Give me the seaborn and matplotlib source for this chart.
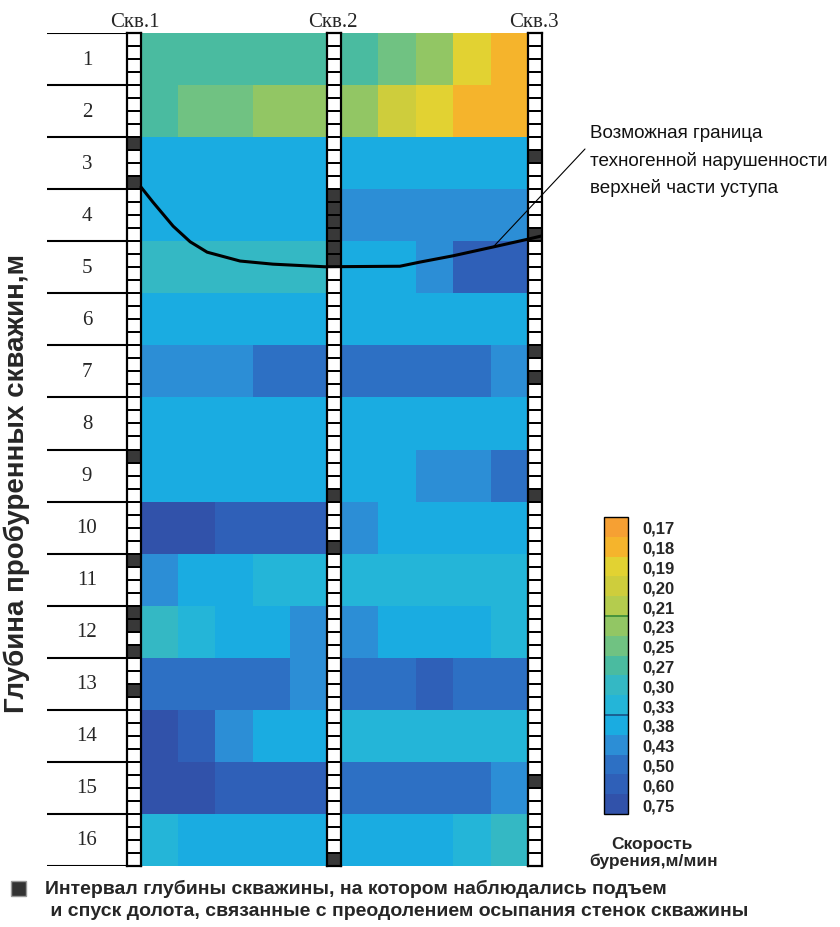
import numpy as np
import pandas as pd
import matplotlib
matplotlib.use('Agg')
import matplotlib.pyplot as plt
import seaborn as sns
from matplotlib.colors import ListedColormap
from matplotlib.patches import Rectangle

# colour scale: drilling speed levels, m/min (top to bottom of the bar)
levels = [0.17, 0.18, 0.19, 0.20, 0.21, 0.23, 0.25, 0.27, 0.30, 0.33, 0.38, 0.43, 0.50, 0.60, 0.75]
level_colors = ['#F6A033', '#F5B42C', '#E2D232', '#CECD3C', '#B4CC4E', '#92C664', '#70C282',
                '#4ABBA0', '#34B8C4', '#24B5D8', '#1AACE1', '#2C8ED6', '#2D70C4', '#2F60B8', '#3152AA']

depths = list(range(1, 17))

# drilling speed between wells 1 and 2, five columns per metre of depth
speed_12 = [
    [0.27, 0.27, 0.27, 0.27, 0.27],
    [0.27, 0.25, 0.25, 0.23, 0.23],
    [0.38, 0.38, 0.38, 0.38, 0.38],
    [0.38, 0.38, 0.38, 0.38, 0.38],
    [0.30, 0.30, 0.30, 0.30, 0.30],
    [0.38, 0.38, 0.38, 0.38, 0.38],
    [0.43, 0.43, 0.43, 0.50, 0.50],
    [0.38, 0.38, 0.38, 0.38, 0.38],
    [0.38, 0.38, 0.38, 0.38, 0.38],
    [0.75, 0.75, 0.60, 0.60, 0.60],
    [0.43, 0.38, 0.38, 0.33, 0.33],
    [0.30, 0.33, 0.38, 0.38, 0.43],
    [0.50, 0.50, 0.50, 0.50, 0.43],
    [0.75, 0.60, 0.43, 0.38, 0.38],
    [0.75, 0.75, 0.60, 0.60, 0.60],
    [0.33, 0.38, 0.38, 0.38, 0.38],
]

# drilling speed between wells 2 and 3
speed_23 = [
    [0.27, 0.25, 0.23, 0.19, 0.18],
    [0.23, 0.20, 0.19, 0.18, 0.18],
    [0.38, 0.38, 0.38, 0.38, 0.38],
    [0.43, 0.43, 0.43, 0.43, 0.43],
    [0.38, 0.38, 0.43, 0.60, 0.60],
    [0.38, 0.38, 0.38, 0.38, 0.38],
    [0.50, 0.50, 0.50, 0.50, 0.43],
    [0.38, 0.38, 0.38, 0.38, 0.38],
    [0.38, 0.38, 0.43, 0.43, 0.50],
    [0.43, 0.38, 0.38, 0.38, 0.38],
    [0.33, 0.33, 0.33, 0.33, 0.33],
    [0.43, 0.38, 0.38, 0.38, 0.33],
    [0.50, 0.50, 0.60, 0.50, 0.50],
    [0.33, 0.33, 0.33, 0.33, 0.33],
    [0.50, 0.50, 0.50, 0.50, 0.43],
    [0.38, 0.38, 0.38, 0.33, 0.30],
]

# start depth (m) of 0.25 m intervals with bit lifting / lowering
lift_well1 = [2.0, 2.75, 8.0, 10.0, 11.0, 11.25, 11.75, 12.5]
lift_well2 = [3.0, 3.25, 3.5, 3.75, 4.0, 4.25, 8.75, 9.75, 15.75]
lift_well3 = [2.25, 3.75, 6.0, 6.5, 8.75, 14.25]

# possible boundary: position (columns from well 1) and depth (m)
border_x = [0.0, 0.31, 0.83, 1.27, 1.71, 2.56, 3.41, 4.75, 6.69, 7.21, 8.06, 9.10, 10.0, 10.34]
border_depth = [2.96, 3.25, 3.71, 4.01, 4.21, 4.38, 4.44, 4.49, 4.48, 4.40, 4.28, 4.11, 3.96, 3.90]

well_names = ['Скв.1', 'Скв.2', 'Скв.3']

W, H = 840, 928


def rect(x0, y0, x1, y1):
    return [x0 / W, 1 - y1 / H, (x1 - x0) / W, (y1 - y0) / H]


def fpos(x, y):
    return x / W, 1 - y / H


sns.set_theme(style='white')
plt.rcParams['font.family'] = ['Liberation Sans', 'DejaVu Sans']

fig = plt.figure(figsize=(8.4, 9.28), dpi=100)
cmap = ListedColormap(level_colors)


def to_index(rows):
    return pd.DataFrame([[levels.index(v) for v in r] for r in rows], index=depths)


TOP, BOT = 34, 867

# depth labels column
ax_lab = fig.add_axes(rect(47, TOP, 127, BOT))
ax_lab.hlines(range(0, 17), 0, 1, color='black', lw=1.5)
for d in depths:
    ax_lab.text(0.5, d - 0.5, str(d), ha='center', va='center',
                family='Liberation Serif', fontsize=15)
ax_lab.set_xlim(0, 1)
ax_lab.set_ylim(16, 0)
ax_lab.axis('off')

# speed maps
ax_b1 = fig.add_axes(rect(141, TOP, 327, BOT))
ax_b2 = fig.add_axes(rect(341, TOP, 528, BOT))
ax_cb = fig.add_axes(rect(604, 518, 628, 815))
sns.heatmap(to_index(speed_12), ax=ax_b1, cmap=cmap, vmin=-0.5, vmax=14.5, cbar=False,
            xticklabels=False, yticklabels=False)
sns.heatmap(to_index(speed_23), ax=ax_b2, cmap=cmap, vmin=-0.5, vmax=14.5, cbar_ax=ax_cb,
            xticklabels=False, yticklabels=False)

cbar = ax_b2.collections[0].colorbar
cbar.set_ticks(range(len(levels)))
cbar.set_ticklabels([f'{v:.2f}'.replace('.', ',') for v in levels])
cbar.ax.invert_yaxis()
cbar.ax.tick_params(length=0, pad=10, labelsize=12)
for t in cbar.ax.get_yticklabels():
    t.set_fontweight('bold')
cbar.ax.axhline(4.5, color='#3f8f3a', lw=1.3)
cbar.ax.axhline(9.5, color='#1b5a8c', lw=1.3)
cbar.outline.set_edgecolor('black')
cbar.outline.set_linewidth(1)


# wells
def draw_well(ax, lifts):
    marks = np.zeros((64, 1))
    for d in lifts:
        marks[int(round(d / 0.25)), 0] = 1
    sns.heatmap(marks, ax=ax, cmap=ListedColormap(['white', '#383838']), vmin=0, vmax=1,
                cbar=False, linewidths=1.2, linecolor='black', xticklabels=False, yticklabels=False)
    for s in ax.spines.values():
        s.set_visible(True)
        s.set_linewidth(1.6)
        s.set_color('black')


well_axes = [fig.add_axes(rect(127, TOP, 141, BOT)),
             fig.add_axes(rect(327, TOP, 341, BOT)),
             fig.add_axes(rect(528, TOP, 542, BOT))]
for ax, lifts in zip(well_axes, [lift_well1, lift_well2, lift_well3]):
    draw_well(ax, lifts)

for name, xc in zip(well_names, [135, 333, 534]):
    fig.text(*fpos(xc, 27), name, ha='center', va='baseline',
             family='Liberation Serif', fontsize=15)

# boundary line
ax_ov = fig.add_axes(rect(141, TOP, 528, BOT))
ax_ov.set_xlim(0, 10)
ax_ov.set_ylim(16, 0)
ax_ov.axis('off')
ax_ov.patch.set_alpha(0)
sns.lineplot(x=border_x, y=border_depth, ax=ax_ov, color='black', lw=2.2,
             sort=False, estimator=None, clip_on=False)
ax_ov.annotate('', xy=(border_x[11], border_depth[11]), xycoords='data',
               xytext=fpos(585, 150), textcoords='figure fraction',
               arrowprops=dict(arrowstyle='-', lw=0.8, color='black',
                               shrinkA=0, shrinkB=0))

for txt, yb in zip(['Возможная граница', 'техногенной нарушенности', 'верхней части уступа'],
                   [138, 166, 193]):
    fig.text(*fpos(590, yb), txt, ha='left', va='baseline', fontsize=13.6, color='#111111')

# axis title
fig.text(*fpos(17, 483), 'Глубина пробуренных скважин,м', rotation=90,
         ha='center', va='center', fontsize=20, fontweight='bold')

# colour bar title
fig.text(*fpos(652, 849), 'Скорость', ha='center', va='baseline', fontsize=12.5, fontweight='bold')
fig.text(*fpos(654, 866), 'бурения,м/мин', ha='center', va='baseline', fontsize=12.5, fontweight='bold')

# legend
x0, y0 = fpos(11, 897)
fig.add_artist(Rectangle((x0, y0), 15 / W, 15 / H, transform=fig.transFigure,
                         facecolor='#333333', edgecolor='#999999', lw=1))
fig.text(*fpos(45, 894), 'Интервал глубины скважины, на котором наблюдались подъем',
         ha='left', va='baseline', fontsize=14, fontweight='bold')
fig.text(*fpos(45, 916), ' и спуск долота, связанные с преодолением осыпания стенок скважины',
         ha='left', va='baseline', fontsize=14, fontweight='bold')

fig.savefig('out.png', dpi=100)
